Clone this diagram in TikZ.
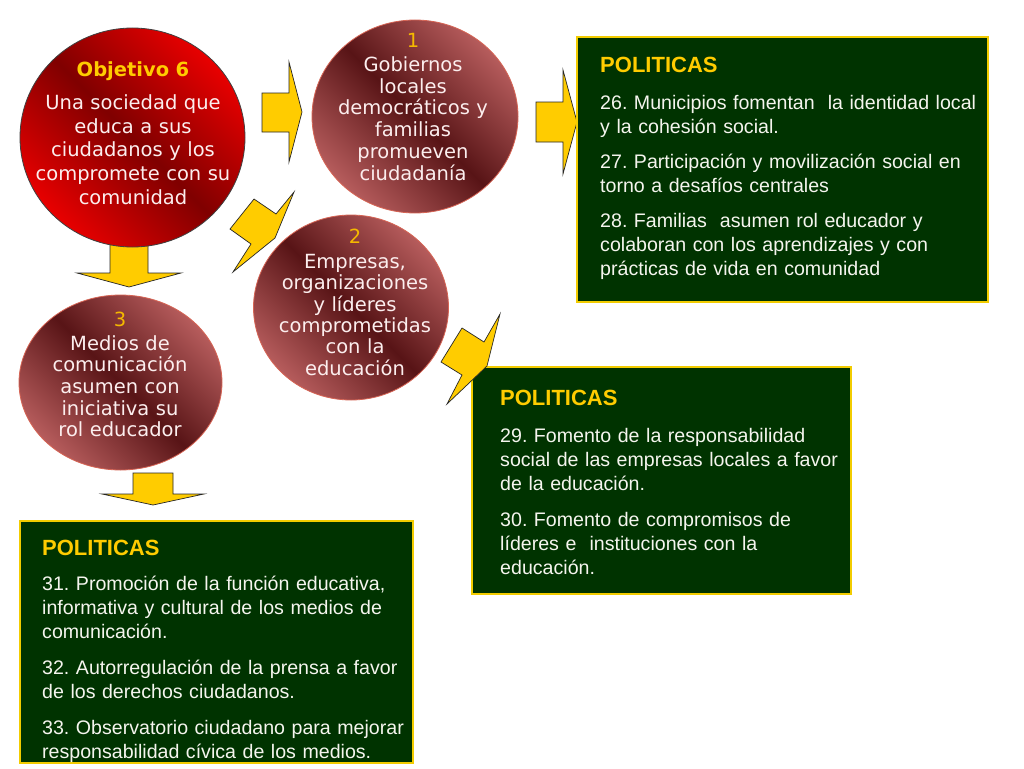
\documentclass[tikz,border=0pt]{standalone}
\usepackage{fontspec}
\setmainfont{Liberation Sans}
\newfontfamily\verd{DejaVu Sans}
\usetikzlibrary{shapes.geometric}
\definecolor{boxgreen}{RGB}{0,51,0}
\definecolor{boxyellow}{RGB}{242,204,0}
\definecolor{boxtext}{RGB}{245,245,238}
\definecolor{arrowyellow}{RGB}{255,204,0}
\definecolor{titleyellow}{RGB}{255,204,0}
\definecolor{numyellow}{RGB}{245,185,0}
\definecolor{brlight}{RGB}{182,92,92}
\definecolor{brdark}{RGB}{88,20,22}
\definecolor{bubbleedge}{RGB}{214,100,84}
\definecolor{redlight}{RGB}{232,0,0}
\definecolor{reddark}{RGB}{128,0,0}
\definecolor{circtext}{RGB}{252,238,238}
\frenchspacing
\begin{document}
\begin{tikzpicture}[x=1pt,y=-1pt,
  yarrow/.style={fill=arrowyellow, draw=black!85, line width=0.7pt, line join=miter},
  polbox/.style={rectangle, inner sep=0pt, outer sep=0pt, fill=boxgreen, draw=boxyellow, line width=2.5pt},
  bubble/.style={ellipse, inner sep=0pt, outer sep=0pt, draw=bubbleedge, line width=0.8pt, top color=brlight, bottom color=brlight, middle color=brdark, shading angle=-45},
  objbubble/.style={ellipse, inner sep=0pt, outer sep=0pt, draw=black!75, line width=0.8pt, top color=redlight, bottom color=redlight, middle color=reddark, shading angle=-45},
  bubtext/.style={anchor=base, inner sep=0pt, text width=220pt, align=center, text=circtext, font=\verd\fontsize{19.5}{21.7}\selectfont},
  poltitle/.style={anchor=base west, inner sep=0pt, text=titleyellow, font=\fontsize{22}{26}\selectfont\bfseries},
  poltext/.style={anchor=base west, inner sep=0pt, text width=420pt, align=left, text=boxtext, font=\fontsize{19.6}{24}\selectfont\frenchspacing},
]
\useasboundingbox (0,0) rectangle (1024,768);
\fill[white] (0,0) rectangle (1024,768);

% block arrows
\draw[yarrow] (262,93) -- (289,93) -- (289,62) -- (302,112) -- (289,162) -- (289,132) -- (262,132) -- cycle;
\draw[yarrow] (536,102) -- (563,102) -- (563,70) -- (577,122) -- (563,174) -- (563,142) -- (536,142) -- cycle;
\draw[yarrow] (110,238) -- (148,238) -- (148,273) -- (181,273) -- (129,287) -- (77,273) -- (110,273) -- cycle;
\draw[yarrow] (133,473) -- (173,473) -- (173,494) -- (204,494) -- (153,505) -- (102,494) -- (133,494) -- cycle;

% lightning 1
\draw[yarrow] (294,192) -- (276,214) -- (254,199) -- (230,229) -- (251,244) -- (233,272) -- (275,238) -- cycle;

% bubbles
\node[objbubble, minimum width=225pt, minimum height=219pt] (obj) at (132.5,137.5) {};
\node[bubble, minimum width=206pt, minimum height=193pt] (c1) at (415,116.5) {};
\node[bubble, minimum width=195pt, minimum height=185pt] (c2) at (351,307.5) {};
\node[bubble, minimum width=203pt, minimum height=175pt] (c3) at (120.5,382.5) {};

\node[bubtext, font=\verd\fontsize{19.5}{23.7}\selectfont] (objt) at (133,76)
  {{\bfseries\color{titleyellow}Objetivo 6}\\[9.6pt]Una sociedad que\\educa a sus\\ciudadanos y los\\compromete con su\\comunidad};
\node[bubtext] (c1t) at (413,48)
  {{\color{numyellow}1}\\[1.8pt]Gobiernos\\locales\\democráticos y\\familias\\promueven\\ciudadanía};
\node[bubtext, font=\verd\fontsize{19.5}{21.4}\selectfont] (c2t) at (355,243.5)
  {{\color{numyellow}2}\\[3.4pt]Empresas,\\organizaciones\\y líderes\\comprometidas\\con la\\educación};
\node[bubtext] (c3t) at (120,326.7)
  {{\color{numyellow}3}\\[1.6pt]Medios de\\comunicación\\asumen con\\iniciativa su\\rol educador};

% policy boxes
\node[polbox, minimum width=411pt, minimum height=265pt] (b1) at (782.5,169.5) {};
\node[polbox, minimum width=379pt, minimum height=227pt] (b2) at (661.5,480.5) {};
\node[polbox, minimum width=393pt, minimum height=242pt] (b3) at (216.5,642) {};

\node[poltitle] (b1t) at (600,72) {POLITICAS};
\node[poltext] (b1x) at (600,109)
  {26. Municipios fomentan\ \ la identidad local\\y la cohesión social.\\[11pt]27. Participación y movilización social en\\torno a desafíos centrales\\[11pt]28. Familias\ \ asumen rol educador y\\colaboran con los aprendizajes y con\\prácticas de vida en comunidad};

\node[poltitle] (b2t) at (500,405) {POLITICAS};
\node[poltext] (b2x) at (500,442)
  {29. Fomento de la responsabilidad\\social de las empresas locales a favor\\de la educación.\\[12pt]30. Fomento de compromisos de\\líderes e\ \ instituciones con la\\educación.};

\node[poltitle] (b3t) at (42,555) {POLITICAS};
\node[poltext] (b3x) at (42,590)
  {31. Promoción de la función educativa,\\informativa y cultural de los medios de\\comunicación.\\[12pt]32. Autorregulación de la prensa a favor\\de los derechos ciudadanos.\\[12pt]33. Observatorio ciudadano para mejorar\\responsabilidad cívica de los medios.};

% lightning 2 (over box 2)
\draw[yarrow] (500,314) -- (484,342) -- (462,328) -- (441,362) -- (462,375) -- (447,404) -- (487,366) -- cycle;
\end{tikzpicture}
\end{document}
